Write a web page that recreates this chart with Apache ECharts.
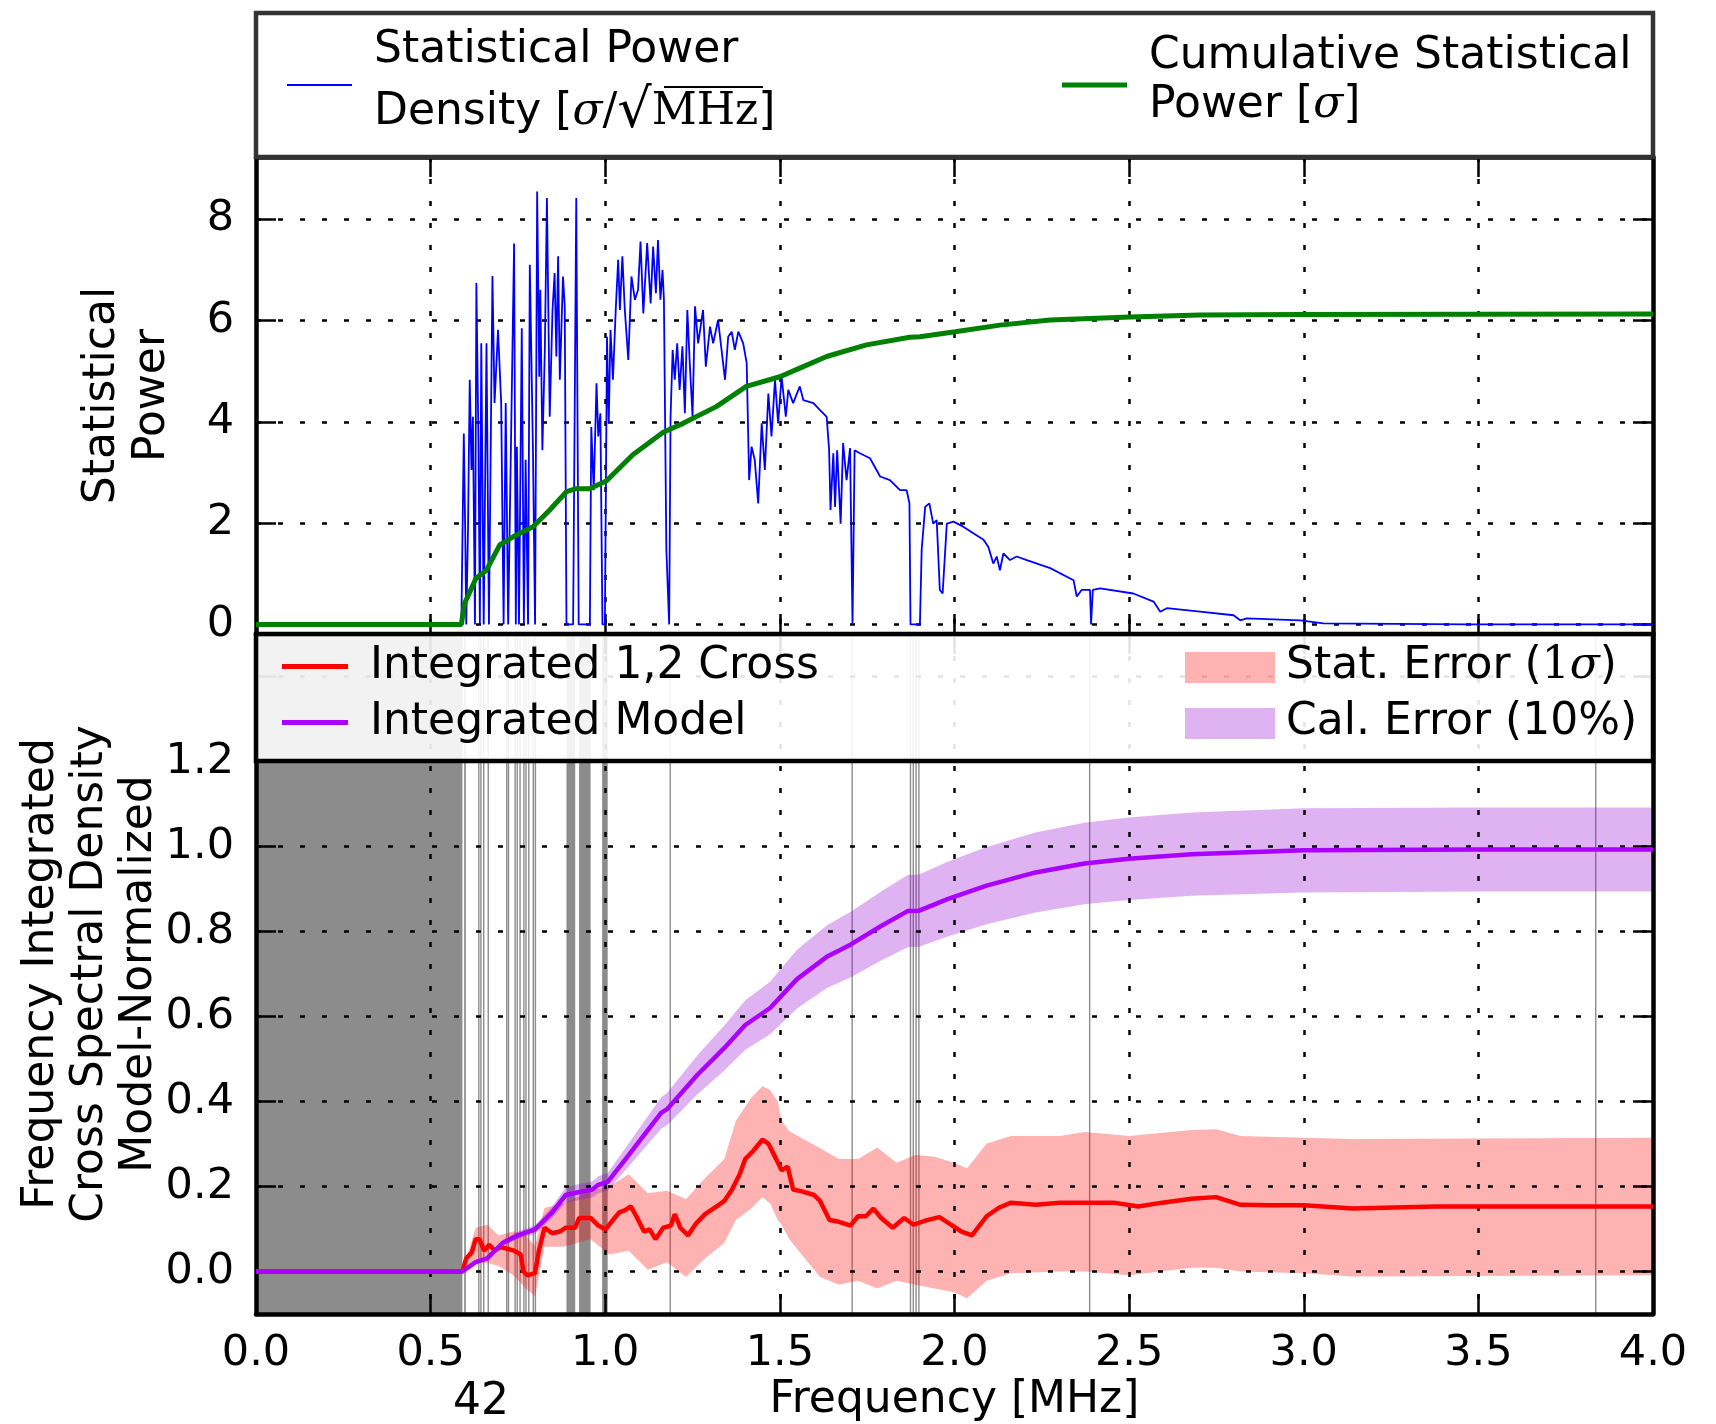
<!DOCTYPE html>
<html>
<head>
<meta charset="utf-8">
<script src="https://cdn.jsdelivr.net/npm/echarts@6/dist/echarts.min.js"></script>
<style>
  html, body { margin: 0; padding: 0; background: #fff; }
  #chart { width: 1716px; height: 1424px; }
</style>
</head>
<body>
<div id="chart"></div>
<script>
// frequency [MHz], statistical power density [sigma/sqrt(MHz)]
const powerDensity = [
  [0, 0], [0.588, 0], [0.595, 3.77], [0.599, 1.86], [0.602, 0], [0.607, 1.86], [0.612, 4.83], [0.617, 3.05],
  [0.621, 4.10], [0.627, 0], [0.631, 6.74], [0.637, 3.58], [0.641, 0], [0.645, 5.55], [0.652, 0], [0.660, 5.55],
  [0.667, 0], [0.677, 6.88], [0.683, 4.37], [0.693, 5.82], [0.702, 4.37], [0.709, 0], [0.715, 4.37], [0.722, 0],
  [0.739, 7.52], [0.744, 0], [0.747, 3.51], [0.753, 0], [0.761, 5.85], [0.767, 0], [0.772, 3.25], [0.779, 0],
  [0.784, 7.10], [0.789, 7.10], [0.793, 3.44], [0.799, 0], [0.805, 8.55], [0.811, 4.89], [0.814, 6.61], [0.820, 3.44],
  [0.827, 5.42], [0.833, 8.42], [0.841, 4.10], [0.849, 6.21], [0.855, 6.94], [0.860, 5.29], [0.865, 7.27], [0.870, 4.83],
  [0.879, 6.87], [0.884, 6.28], [0.889, 0], [0.908, 0], [0.917, 8.42], [0.924, 0], [0.956, 0], [0.960, 3.90],
  [0.967, 2.65], [0.975, 4.76], [0.980, 3.71], [0.986, 4.17], [0.992, 0], [0.999, 0], [1.005, 5.68], [1.010, 3.97],
  [1.015, 5.82], [1.022, 4.83], [1.030, 6.21], [1.037, 7.20], [1.042, 6.21], [1.049, 7.27], [1.056, 6.21], [1.066, 5.22],
  [1.075, 6.87], [1.085, 6.41], [1.094, 6.61], [1.101, 7.56], [1.109, 6.14], [1.120, 7.53], [1.130, 6.34], [1.137, 7.46],
  [1.145, 6.54], [1.151, 7.59], [1.158, 6.41], [1.164, 7.00], [1.168, 6.41], [1.175, 1.47], [1.183, 0], [1.187, 4.10],
  [1.193, 5.42], [1.199, 4.83], [1.206, 5.55], [1.213, 4.63], [1.221, 5.49], [1.228, 4.17], [1.235, 6.21], [1.242, 5.16],
  [1.250, 4.10], [1.257, 6.28], [1.266, 5.55], [1.280, 6.21], [1.288, 5.09], [1.300, 5.88], [1.309, 5.55], [1.323, 6.01],
  [1.333, 5.42], [1.343, 4.83], [1.352, 5.68], [1.362, 5.78], [1.371, 5.42], [1.381, 5.78], [1.395, 5.55], [1.405, 5.16],
  [1.412, 2.85], [1.419, 3.51], [1.428, 3.25], [1.438, 2.39], [1.448, 3.97], [1.457, 3.05], [1.467, 4.56], [1.476, 3.71],
  [1.486, 4.83], [1.495, 3.97], [1.505, 4.89], [1.517, 4.10], [1.524, 4.63], [1.538, 4.37], [1.557, 4.70], [1.567, 4.43],
  [1.596, 4.37], [1.615, 4.23], [1.634, 4.10], [1.641, 3.44], [1.645, 2.26], [1.653, 3.38], [1.658, 2.32], [1.664, 3.44],
  [1.674, 1.99], [1.681, 3.58], [1.691, 2.85], [1.701, 3.48], [1.708, 0], [1.714, 3.44], [1.729, 3.38], [1.758, 3.28],
  [1.787, 2.92], [1.815, 2.85], [1.844, 2.65], [1.863, 2.65], [1.871, 2.39], [1.874, 0], [1.901, 0], [1.906, 1.47],
  [1.916, 2.32], [1.928, 2.39], [1.939, 1.99], [1.949, 2.06], [1.958, 0.68], [1.966, 0.61], [1.978, 1.99], [1.997, 2.03],
  [2.025, 1.93], [2.054, 1.80], [2.083, 1.67], [2.097, 1.53], [2.111, 1.20], [2.121, 1.34], [2.130, 1.07], [2.140, 1.40],
  [2.159, 1.27], [2.178, 1.34], [2.207, 1.27], [2.274, 1.11], [2.341, 0.87], [2.350, 0.55], [2.364, 0.68], [2.388, 0.68],
  [2.391, 0], [2.396, 0.68], [2.417, 0.71], [2.512, 0.61], [2.570, 0.45], [2.589, 0.25], [2.608, 0.32], [2.703, 0.25],
  [2.799, 0.18], [2.818, 0.08], [2.837, 0.12], [2.990, 0.08], [3.056, 0.02], [3.467, 0.0], [4.0, 0.0]
];

// cumulative statistical power [sigma]
const cumulativePower = [
  [0, 0], [0.588, 0], [0.597, 0.41], [0.630, 0.91], [0.660, 1.07], [0.698, 1.57], [0.736, 1.73], [0.793, 1.93],
  [0.841, 2.26], [0.889, 2.62], [0.917, 2.68], [0.955, 2.68], [1.003, 2.83], [1.079, 3.35], [1.165, 3.79], [1.223, 3.97],
  [1.318, 4.30], [1.404, 4.70], [1.500, 4.89], [1.557, 5.06], [1.634, 5.29], [1.748, 5.52], [1.872, 5.67], [1.901, 5.68],
  [2.002, 5.78], [2.130, 5.91], [2.273, 6.01], [2.503, 6.07], [2.703, 6.11], [2.989, 6.12], [4.0, 6.13]
];

// integrated 1,2 cross spectrum (model-normalized)
const integratedCross = [
  [0, 0], [0.591, 0], [0.602, 0.031], [0.618, 0.045], [0.629, 0.076], [0.640, 0.076], [0.653, 0.049], [0.668, 0.063],
  [0.684, 0.049], [0.700, 0.058], [0.717, 0.054], [0.739, 0.049], [0.758, 0.040], [0.766, 0.0], [0.777, -0.009], [0.799, -0.004],
  [0.810, 0.049], [0.826, 0.103], [0.848, 0.090], [0.870, 0.094], [0.887, 0.103], [0.914, 0.103], [0.925, 0.126], [0.958, 0.126],
  [0.980, 0.108], [1.001, 0.099], [1.018, 0.117], [1.040, 0.139], [1.056, 0.144], [1.073, 0.153], [1.089, 0.130], [1.111, 0.094],
  [1.127, 0.099], [1.144, 0.076], [1.166, 0.103], [1.188, 0.108], [1.199, 0.135], [1.215, 0.103], [1.237, 0.085], [1.259, 0.112],
  [1.286, 0.135], [1.319, 0.153], [1.341, 0.166], [1.363, 0.193], [1.385, 0.229], [1.401, 0.265], [1.423, 0.283], [1.450, 0.310],
  [1.467, 0.301], [1.489, 0.265], [1.505, 0.238], [1.522, 0.247], [1.538, 0.193], [1.560, 0.189], [1.598, 0.180], [1.615, 0.166],
  [1.642, 0.121], [1.669, 0.117], [1.702, 0.108], [1.724, 0.130], [1.746, 0.130], [1.768, 0.148], [1.790, 0.126], [1.823, 0.103],
  [1.856, 0.126], [1.883, 0.110], [1.921, 0.121], [1.957, 0.128], [1.990, 0.110], [2.020, 0.094], [2.050, 0.085], [2.092, 0.130],
  [2.127, 0.150], [2.162, 0.162], [2.232, 0.157], [2.302, 0.162], [2.386, 0.162], [2.456, 0.162], [2.526, 0.153], [2.595, 0.162],
  [2.679, 0.171], [2.749, 0.175], [2.819, 0.157], [2.903, 0.156], [3.0, 0.156], [3.141, 0.148], [3.378, 0.153], [3.658, 0.153],
  [4.0, 0.153]
];

// integrated model
const integratedModel = [
  [0, 0], [0.591, 0], [0.629, 0.022], [0.662, 0.031], [0.706, 0.067], [0.750, 0.085], [0.799, 0.099], [0.848, 0.139],
  [0.887, 0.180], [0.919, 0.186], [0.963, 0.193], [0.980, 0.204], [1.007, 0.211], [1.067, 0.274], [1.160, 0.373], [1.177, 0.382],
  [1.264, 0.463], [1.341, 0.526], [1.401, 0.580], [1.472, 0.620], [1.549, 0.688], [1.637, 0.742], [1.702, 0.769], [1.790, 0.813],
  [1.866, 0.848], [1.899, 0.849], [1.980, 0.876], [2.092, 0.908], [2.232, 0.939], [2.372, 0.960], [2.499, 0.971], [2.679, 0.982],
  [3.0, 0.991], [3.5, 0.993], [4.0, 0.993]
];

// stat. error band: [freq, lower, upper]
const statBand = [
  [0.591, 0, 0], [0.629, 0.022, 0.103], [0.662, 0.020, 0.110], [0.695, 0.013, 0.085], [0.739, -0.010, 0.095], [0.772, -0.040, 0.085],
  [0.799, -0.058, 0.060], [0.826, 0.058, 0.150], [0.881, 0.058, 0.160], [0.958, 0.076, 0.190], [1.012, 0.040, 0.200], [1.067, 0.049, 0.229],
  [1.122, 0.004, 0.184], [1.177, 0.022, 0.190], [1.231, -0.013, 0.170], [1.286, 0.031, 0.220], [1.341, 0.067, 0.265], [1.374, 0.121, 0.355],
  [1.418, 0.148, 0.409], [1.450, 0.175, 0.436], [1.472, 0.160, 0.427], [1.494, 0.121, 0.400], [1.505, 0.110, 0.355], [1.527, 0.076, 0.330],
  [1.571, 0.031, 0.310], [1.615, -0.013, 0.290], [1.669, -0.031, 0.265], [1.724, -0.022, 0.265], [1.779, -0.040, 0.292], [1.834, -0.022, 0.256],
  [1.888, -0.031, 0.274], [1.943, -0.040, 0.270], [1.998, -0.049, 0.256], [2.036, -0.063, 0.243], [2.092, -0.022, 0.301], [2.162, -0.004, 0.319],
  [2.302, 0.0, 0.319], [2.372, 0.0, 0.328], [2.500, -0.009, 0.319], [2.679, 0.009, 0.333], [2.749, 0.009, 0.335], [2.819, 0.0, 0.319],
  [3.0, -0.004, 0.315], [3.141, -0.012, 0.312], [4.0, -0.009, 0.315]
];

// cal. error band: [freq, lower, upper]
const calBand = [
  [0.591, 0, 0], [0.629, 0.020, 0.024], [0.662, 0.028, 0.034], [0.706, 0.060, 0.074], [0.750, 0.077, 0.094], [0.799, 0.089, 0.109],
  [0.848, 0.125, 0.153], [0.887, 0.162, 0.198], [0.919, 0.167, 0.205], [0.963, 0.174, 0.212], [0.980, 0.184, 0.224], [1.007, 0.190, 0.232],
  [1.067, 0.247, 0.301], [1.160, 0.336, 0.410], [1.177, 0.344, 0.420], [1.264, 0.417, 0.509], [1.341, 0.473, 0.579], [1.401, 0.522, 0.638],
  [1.472, 0.558, 0.682], [1.549, 0.619, 0.757], [1.637, 0.668, 0.816], [1.702, 0.692, 0.846], [1.790, 0.732, 0.894], [1.866, 0.763, 0.933],
  [1.899, 0.764, 0.934], [1.980, 0.788, 0.964], [2.092, 0.817, 0.999], [2.232, 0.845, 1.033], [2.372, 0.864, 1.056], [2.499, 0.874, 1.068],
  [2.679, 0.884, 1.080], [3.0, 0.892, 1.090], [3.5, 0.894, 1.092], [4.0, 0.894, 1.092]
];

// flagged frequency ranges [start, end] in MHz
const flaggedRanges = [
  [0, 0.591], [0.596, 0.601], [0.636, 0.640], [0.642, 0.646], [0.650, 0.654], [0.663, 0.667], [0.716, 0.720], [0.721, 0.725],
  [0.740, 0.744], [0.746, 0.750], [0.754, 0.758], [0.765, 0.769], [0.771, 0.775], [0.779, 0.783], [0.792, 0.796], [0.798, 0.802],
  [0.889, 0.914], [0.925, 0.958], [0.991, 1.007], [1.184, 1.188], [1.705, 1.709], [1.872, 1.876], [1.880, 1.884], [1.888, 1.892],
  [1.896, 1.900], [2.385, 2.389], [3.834, 3.838]
];

const powerTicks = [0, 2, 4, 6, 8];
const ratioTicks = [0, 0.2, 0.4, 0.6, 0.8, 1.0, 1.2];

const FONT = 'DejaVu Sans';
const SERIF = 'DejaVu Serif';
const FS = 44;

const chart = echarts.init(document.getElementById('chart'), null, { renderer: 'canvas' });

const dotted = { show: true, lineStyle: { color: '#000', width: 2.5, type: [5, 17] } };

function frameAxis(opts) {
  return Object.assign({
    type: 'value',
    z: 2,
    axisLine: { show: true, onZero: false, lineStyle: { color: '#000', width: 4.5 } },
    axisTick: { show: true, inside: true, length: 20, lineStyle: { color: '#000', width: 2.5 } },
    axisLabel: { show: false },
    splitLine: { show: false }
  }, opts);
}

function tickLabel(list, digits) {
  return {
    show: true, margin: 22, color: '#000', fontFamily: FONT, fontSize: 43,
    formatter: function (v) {
      const hit = list.some(t => Math.abs(t - v) < 1e-6);
      return hit ? v.toFixed(digits) : '';
    }
  };
}

function bandPolygon(rows, fill) {
  return function (params, api) {
    if (params.dataIndex !== 0) return null;
    const upper = rows.map(r => api.coord([r[0], r[2]]));
    const lower = rows.slice().reverse().map(r => api.coord([r[0], r[1]]));
    return { type: 'polygon', shape: { points: upper.concat(lower) }, style: { fill: fill } };
  };
}

const flagAreas = flaggedRanges.map(r => [{ xAxis: r[0] }, { xAxis: r[1] }]);

const mathRich = {
  i: { fontFamily: SERIF, fontStyle: 'italic', fontSize: FS, fill: '#000' },
  r: { fontFamily: SERIF, fontSize: FS, fill: '#000' },
  s: { fontFamily: SERIF, fontSize: 54, fill: '#000' }
};

const option = {
  animation: false,
  backgroundColor: '#fff',
  grid: [
    { left: 256, top: 157, width: 1397, height: 477 },
    { left: 256, top: 634, width: 1397, height: 682.6 }
  ],
  xAxis: [
    frameAxis({ gridIndex: 0, position: 'bottom', min: 0, max: 4, interval: 0.5, splitLine: dotted }),
    frameAxis({ gridIndex: 0, position: 'top', min: 0, max: 4, interval: 0.5 }),
    frameAxis({
      gridIndex: 1, position: 'bottom', min: 0, max: 4, interval: 0.5, splitLine: dotted,
      axisLabel: { show: true, margin: 18, color: '#000', fontFamily: FONT, fontSize: 43, formatter: v => v.toFixed(1) },
      name: 'Frequency [MHz]', nameLocation: 'middle', nameGap: 65, nameMoveOverlap: false,
      nameTextStyle: { color: '#000', fontFamily: FONT, fontSize: FS }
    }),
    frameAxis({ gridIndex: 1, position: 'top', min: 0, max: 4, interval: 0.5 })
  ],
  yAxis: [
    frameAxis({
      gridIndex: 0, position: 'left', min: -0.19, max: 9.23, splitNumber: 5, splitLine: dotted,
      axisLabel: tickLabel(powerTicks, 0),
      name: 'Statistical\nPower', nameLocation: 'middle', nameRotate: 90, nameGap: 78, nameMoveOverlap: false,
      nameTextStyle: { color: '#000', fontFamily: FONT, fontSize: FS, lineHeight: 50 }
    }),
    frameAxis({ gridIndex: 0, position: 'right', min: -0.19, max: 9.23, splitNumber: 5 }),
    frameAxis({
      gridIndex: 1, position: 'left', min: -0.1, max: 1.5, splitNumber: 8, splitLine: dotted,
      axisLabel: tickLabel(ratioTicks, 1),
      name: 'Frequency Integrated\nCross Spectral Density\nModel-Normalized', nameLocation: 'middle', nameRotate: 90,
      nameGap: 92, nameMoveOverlap: false,
      nameTextStyle: { color: '#000', fontFamily: FONT, fontSize: FS, lineHeight: 49 }
    }),
    frameAxis({ gridIndex: 1, position: 'right', min: -0.1, max: 1.5, splitNumber: 8 })
  ],
  series: [
    {
      name: 'Statistical Power Density', type: 'line', xAxisIndex: 0, yAxisIndex: 0, z: 3,
      data: powerDensity, showSymbol: false, symbol: 'none',
      lineStyle: { color: '#0000ff', width: 1.8 }
    },
    {
      name: 'Cumulative Statistical Power', type: 'line', xAxisIndex: 0, yAxisIndex: 0, z: 4,
      data: cumulativePower, showSymbol: false, symbol: 'none',
      lineStyle: { color: '#008000', width: 5 }
    },
    {
      name: 'Stat. Error', type: 'custom', xAxisIndex: 2, yAxisIndex: 2, z: 1,
      data: statBand, encode: { x: 0, y: [1, 2] },
      renderItem: bandPolygon(statBand, 'rgba(255,0,0,0.3)')
    },
    {
      name: 'Cal. Error', type: 'custom', xAxisIndex: 2, yAxisIndex: 2, z: 1,
      data: calBand, encode: { x: 0, y: [1, 2] },
      renderItem: bandPolygon(calBand, 'rgba(148,0,211,0.3)')
    },
    {
      name: 'Flagged', type: 'line', xAxisIndex: 2, yAxisIndex: 2, z: 1,
      data: [], symbol: 'none',
      markArea: { silent: true, itemStyle: { color: 'rgba(0,0,0,0.45)' }, data: flagAreas }
    },
    {
      name: 'Integrated 1,2 Cross', type: 'line', xAxisIndex: 2, yAxisIndex: 2, z: 3,
      data: integratedCross, showSymbol: false, symbol: 'none',
      lineStyle: { color: '#ff0000', width: 4.5 }
    },
    {
      name: 'Integrated Model', type: 'line', xAxisIndex: 2, yAxisIndex: 2, z: 3,
      data: integratedModel, showSymbol: false, symbol: 'none',
      lineStyle: { color: '#aa00ff', width: 4.5 }
    }
  ],
  graphic: [
    // top legend
    { type: 'rect', z: 100, shape: { x: 256, y: 13, width: 1397, height: 144 }, style: { fill: '#fff', stroke: '#333', lineWidth: 4.5 } },
    { type: 'line', z: 101, shape: { x1: 287, y1: 85, x2: 352, y2: 85 }, style: { stroke: '#0000ff', lineWidth: 2 } },
    { type: 'text', z: 101, x: 374, y: 51, style: { text: 'Statistical Power', fontFamily: FONT, fontSize: FS, fill: '#000', verticalAlign: 'middle' } },
    {
      type: 'text', z: 101, x: 374, y: 113,
      style: { text: 'Density [{i|σ}{r|/}{s|√}{r|MHz}]', fontFamily: FONT, fontSize: FS, fill: '#000', verticalAlign: 'middle', rich: mathRich }
    },
    { type: 'line', z: 101, shape: { x1: 664, y1: 87, x2: 763, y2: 87 }, style: { stroke: '#000', lineWidth: 2 } },
    { type: 'line', z: 101, shape: { x1: 1062, y1: 85, x2: 1127, y2: 85 }, style: { stroke: '#008000', lineWidth: 5 } },
    { type: 'text', z: 101, x: 1149, y: 57, style: { text: 'Cumulative Statistical', fontFamily: FONT, fontSize: FS, fill: '#000', verticalAlign: 'middle' } },
    {
      type: 'text', z: 101, x: 1149, y: 106,
      style: { text: 'Power [{i|σ}]', fontFamily: FONT, fontSize: FS, fill: '#000', verticalAlign: 'middle', rich: mathRich }
    },
    // bottom legend
    { type: 'rect', z: 100, shape: { x: 256, y: 634, width: 1397, height: 127 }, style: { fill: 'rgba(255,255,255,0.89)', stroke: '#000', lineWidth: 4.5 } },
    { type: 'line', z: 101, shape: { x1: 282, y1: 666.5, x2: 348, y2: 666.5 }, style: { stroke: '#ff0000', lineWidth: 5 } },
    { type: 'text', z: 101, x: 370, y: 667, style: { text: 'Integrated 1,2 Cross', fontFamily: FONT, fontSize: FS, fill: '#000', verticalAlign: 'middle' } },
    { type: 'line', z: 101, shape: { x1: 282, y1: 722.5, x2: 348, y2: 722.5 }, style: { stroke: '#aa00ff', lineWidth: 5 } },
    { type: 'text', z: 101, x: 370, y: 723, style: { text: 'Integrated Model', fontFamily: FONT, fontSize: FS, fill: '#000', verticalAlign: 'middle' } },
    { type: 'rect', z: 101, shape: { x: 1185, y: 652, width: 90, height: 31 }, style: { fill: 'rgba(255,0,0,0.3)' } },
    {
      type: 'text', z: 101, x: 1286, y: 667,
      style: { text: 'Stat. Error ({r|1}{i|σ})', fontFamily: FONT, fontSize: FS, fill: '#000', verticalAlign: 'middle', rich: mathRich }
    },
    { type: 'rect', z: 101, shape: { x: 1185, y: 708, width: 90, height: 31 }, style: { fill: 'rgba(148,0,211,0.3)' } },
    { type: 'text', z: 101, x: 1286, y: 723, style: { text: 'Cal. Error (10%)', fontFamily: FONT, fontSize: FS, fill: '#000', verticalAlign: 'middle' } },
    // stray annotation below the axis
    { type: 'text', z: 101, x: 481, y: 1403, style: { text: '42', fontFamily: FONT, fontSize: FS, fill: '#000', align: 'center', verticalAlign: 'middle' } }
  ]
};

chart.setOption(option);
</script>
</body>
</html>
